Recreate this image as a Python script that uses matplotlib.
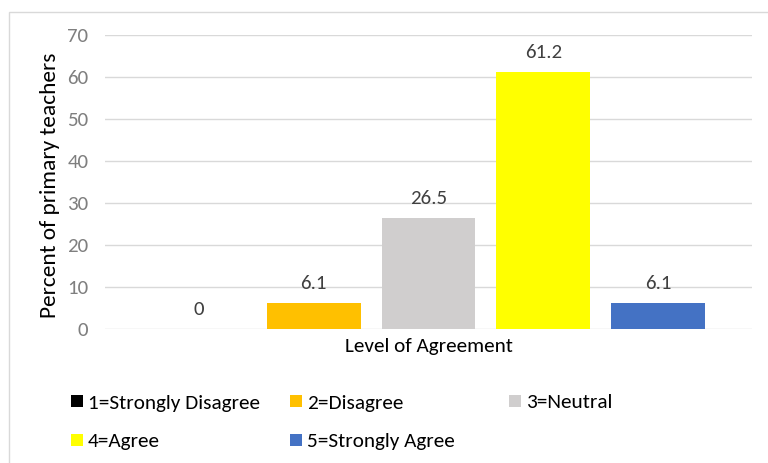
import numpy as np
import matplotlib.pyplot as plt
from matplotlib.patches import Rectangle

plt.rcParams['font.family'] = ['Carlito', 'DejaVu Sans']

labels = ['1=Strongly Disagree', '2=Disagree', '3=Neutral', '4=Agree', '5=Strongly Agree']
values = [0, 6.1, 26.5, 61.2, 6.1]
colors = ['#000000', '#FFC000', '#D0CECE', '#FFFF00', '#4472C4']
yticks = [0, 10, 20, 30, 40, 50, 60, 70]
category = 'Level of Agreement'

W, H = 768, 463
fig = plt.figure(figsize=(W / 100, H / 100), dpi=100)
fig.patches.append(Rectangle((9 / W, -0.01), 1.0, 1 - 12 / H + 0.01,
                             transform=fig.transFigure, fill=False,
                             edgecolor='#D9D9D9', linewidth=1.0))

ax = fig.add_axes([105 / W, 1 - 329 / H, 647 / W, 294 / H])

x = np.arange(len(values)) - 2
handles = []
for xi, v, c, lbl in zip(x, values, colors, labels):
    b = ax.bar(xi, v, width=0.817, color=c, label=lbl, zorder=3)
    handles.append(b[0])
    ax.annotate('%g' % v, (xi, v), xytext=(0, 14.0), textcoords='offset points',
                ha='center', va='center', fontsize=15, color='#404040')

ax.set_xlim(-2.815, 2.815)
ax.set_ylim(0, 70)
ax.set_yticks(yticks)
ax.set_xticks([0])
ax.set_xticklabels([category])
ax.yaxis.grid(True, color='#D9D9D9', linewidth=1.0, zorder=0)
for side in ['top', 'right', 'left', 'bottom']:
    ax.spines[side].set_visible(False)
ax.tick_params(axis='y', length=0, pad=12, labelsize=15, labelcolor='#7F7F7F')
ax.tick_params(axis='x', length=0, pad=6.5, labelsize=15.3, labelcolor='#000000')

ax.set_ylabel('Percent of primary teachers', fontsize=16.8, color='#000000', va='center')
ax.yaxis.set_label_coords((50 - 105) / 647, (329 - 185) / 294)

# legend laid out as a fixed 3-column grid below the plot
slots = [(71, 403), (71, 442), (290, 403), (290, 442), (509, 403)]
order = [0, 3, 1, 4, 2]
for (px, py), i in zip(slots, order):
    fig.legend([handles[i]], [labels[i]], loc='center left',
               bbox_to_anchor=(px / W, 1 - py / H), frameon=False,
               borderpad=0, borderaxespad=0, fontsize=15.3,
               handlelength=0.56, handleheight=0.56, handletextpad=0.24)

fig.savefig('out.png', dpi=100)
